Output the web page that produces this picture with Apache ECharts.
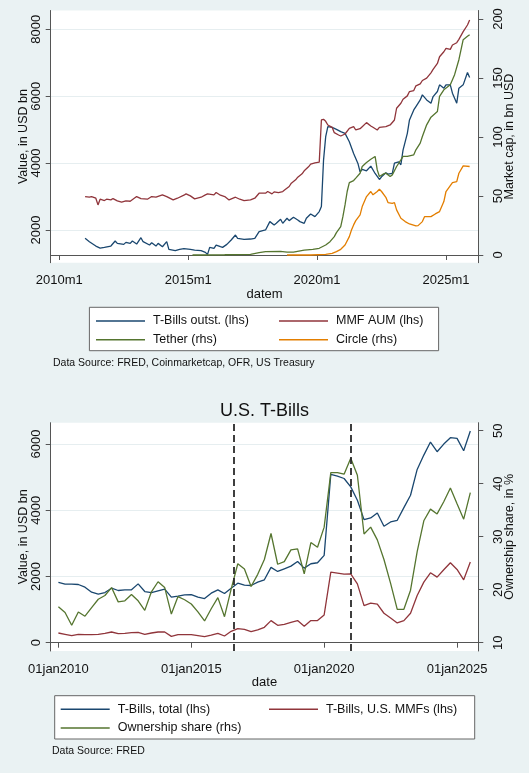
<!DOCTYPE html>
<html>
<head>
<meta charset="utf-8">
<script src="https://cdn.jsdelivr.net/npm/echarts@6/dist/echarts.min.js"></script>
<style>
html,body{margin:0;padding:0;background:#eaf2f3;}
#c{width:529px;height:773px;}
</style>
</head>
<body>
<div id="c"></div>
<script>
// ---------- Chart 1 data (monthly) ----------
const tbillsOutst = [
 ['2011-01',1750],['2011-03',1650],['2011-06',1520],['2011-08',1460],['2011-10',1480],['2012-01',1520],
 ['2012-03',1670],['2012-04',1600],['2012-07',1570],['2012-08',1630],['2012-10',1600],['2012-11',1670],
 ['2013-01',1580],['2013-03',1770],['2013-04',1650],['2013-07',1550],['2013-08',1620],['2013-10',1520],
 ['2013-11',1600],['2014-01',1500],['2014-03',1650],['2014-04',1420],['2014-07',1380],['2014-09',1420],
 ['2014-11',1440],['2015-02',1420],['2015-04',1400],['2015-07',1380],['2015-09',1330],['2015-10',1270],
 ['2015-11',1480],['2016-01',1450],['2016-02',1550],['2016-04',1500],['2016-05',1480],['2016-07',1570],
 ['2016-09',1700],['2016-11',1850],['2016-12',1750],['2017-03',1720],['2017-06',1730],['2017-08',1750],
 ['2017-10',1950],['2018-01',2000],['2018-03',2250],['2018-05',2150],['2018-06',2200],['2018-08',2320],
 ['2018-09',2200],['2018-11',2350],['2018-12',2280],['2019-02',2380],['2019-04',2300],['2019-05',2250],
 ['2019-07',2200],['2019-08',2350],['2019-10',2480],['2019-12',2400],['2020-02',2550],['2020-03',2700],
 ['2020-04',4090],['2020-05',4790],['2020-06',5090],['2020-08',5070],['2020-10',5010],['2020-12',4940],
 ['2021-02',4890],['2021-04',4640],['2021-06',4290],['2021-08',3990],['2021-09',3740],['2021-10',3810],
 ['2021-12',3770],['2022-02',3910],['2022-04',3690],['2022-06',3510],['2022-07',3590],['2022-09',3710],
 ['2022-10',3670],['2022-12',3690],['2023-01',4000],['2023-03',4040],['2023-04',3950],['2023-05',4390],
 ['2023-07',4890],['2023-08',5290],['2023-10',5590],['2023-11',5690],['2024-01',5890],['2024-02',6040],
 ['2024-04',5890],['2024-06',5790],['2024-07',5990],['2024-09',6140],['2024-10',6340],['2024-12',6240],
 ['2025-01',6340],['2025-03',6340],['2025-04',6090],['2025-06',5790],['2025-07',6240],['2025-09',6340],
 ['2025-11',6710],['2025-12',6560]
];
const mmfAum = [
 ['2011-01',2997],['2011-03',2980],['2011-04',3000],['2011-06',2950],['2011-07',2750],['2011-08',2920],
 ['2011-10',2880],['2011-11',2920],['2012-01',2900],['2012-02',2940],['2012-04',2870],['2012-06',2830],
 ['2012-08',2870],['2012-10',2860],['2013-01',3000],['2013-03',2940],['2013-06',2920],['2013-08',3000],
 ['2013-10',2980],['2014-01',3050],['2014-03',3000],['2014-06',2900],['2014-08',2950],['2014-11',3040],
 ['2014-12',3080],['2015-02',3020],['2015-04',2930],['2015-07',2980],['2015-09',3050],['2015-10',3080],
 ['2016-01',3050],['2016-02',3120],['2016-04',3040],['2016-06',3000],['2016-08',2900],['2016-11',2980],
 ['2017-01',2920],['2017-03',2880],['2017-06',2900],['2017-08',2950],['2017-10',3100],['2018-01',3100],
 ['2018-02',3150],['2018-04',3080],['2018-05',3140],['2018-07',3120],['2018-09',3150],['2018-10',3200],
 ['2018-12',3300],['2019-01',3400],['2019-03',3500],['2019-04',3580],['2019-06',3680],['2019-07',3770],
 ['2019-09',3890],['2019-10',3970],['2019-12',4010],['2020-02',4030],['2020-03',5290],['2020-04',5310],
 ['2020-05',5250],['2020-06',5140],['2020-08',5070],['2020-09',4910],['2020-11',4840],['2020-12',4810],
 ['2021-02',4870],['2021-04',5040],['2021-06',5090],['2021-07',4990],['2021-09',5030],['2021-10',5090],
 ['2021-12',5210],['2022-02',5110],['2022-03',5070],['2022-05',4990],['2022-06',5070],['2022-09',5090],
 ['2022-11',5140],['2023-01',5290],['2023-02',5640],['2023-04',5790],['2023-05',5910],['2023-07',6010],
 ['2023-08',6140],['2023-10',6170],['2023-11',6310],['2024-01',6370],['2024-02',6470],['2024-04',6540],
 ['2024-06',6700],['2024-07',6800],['2024-09',6980],['2024-10',7180],['2024-12',7330],['2025-01',7430],
 ['2025-03',7400],['2025-04',7530],['2025-06',7600],['2025-07',7700],['2025-09',7930],['2025-11',8130],
 ['2025-12',8280]
];
const tether = [
 ['2015-03',0],['2016-06',0.2],['2017-06',0.5],['2017-10',2],['2018-01',2.8],['2018-08',3.1],
 ['2018-11',2.5],['2019-02',2.5],['2019-07',4.2],['2019-11',4.8],['2020-02',5.7],['2020-05',8.5],
 ['2020-07',11.3],['2020-09',15.6],['2020-10',19],['2020-12',24],['2021-01',32.5],['2021-02',42.4],
 ['2021-03',53.8],['2021-04',61.4],['2021-06',63.1],['2021-07',65.1],['2021-09',69.3],['2021-10',75],
 ['2021-12',78.4],['2022-02',81.2],['2022-04',83.5],['2022-05',72.1],['2022-06',66.5],['2022-08',68.7],
 ['2022-09',69.3],['2022-11',66.5],['2022-12',67.9],['2023-02',75],['2023-04',80.6],['2023-05',83.5],
 ['2023-07',83.5],['2023-10',84.9],['2023-11',89.1],['2024-01',94.8],['2024-02',100.4],['2024-04',110.3],
 ['2024-06',116.8],['2024-09',121.6],['2024-10',134.4],['2024-12',140],['2025-03',144.3],['2025-05',152.8],
 ['2025-07',165.5],['2025-09',182.5],['2025-11',185.3],['2025-12',186.7]
];
const circle = [
 ['2018-11',0],['2019-10',0],['2020-05',0.6],['2020-08',1.4],['2020-10',2.8],['2020-12',4.8],
 ['2021-02',8.5],['2021-04',15.6],['2021-05',21.2],['2021-06',25.5],['2021-07',29.1],['2021-09',34],
 ['2021-10',41],['2021-12',49.5],['2022-02',53.8],['2022-03',51],['2022-05',53.8],['2022-06',55.7],
 ['2022-07',53.8],['2022-09',48.9],['2022-10',44.4],['2022-12',43.8],['2023-01',44.4],['2023-02',38.2],
 ['2023-04',31.1],['2023-06',28.3],['2023-08',26.3],['2023-11',24.6],['2023-12',24.9],['2024-02',28.3],
 ['2024-03',32.5],['2024-06',32.5],['2024-08',34.8],['2024-10',36.8],['2024-12',45.3],['2025-01',53.8],
 ['2025-04',61.4],['2025-06',62.2],['2025-07',69.3],['2025-09',75.5],['2025-12',75]
];
const c1YearTicks = [2010, 2015, 2020, 2025];
const c1LeftTicks = [2000, 4000, 6000, 8000];
const c1RightTicks = [0, 50, 100, 150, 200];

// ---------- Chart 2 data (quarterly from 2010q1) ----------
const quarterStartYear = 2010;
const tbTotal = [1818,1768,1768,1757,1677,1525,1465,1515,1646,1576,1596,1596,1776,1545,1515,1566,
 1616,1374,1404,1444,1454,1374,1333,1495,1596,1485,1646,1798,1737,1727,1828,1899,
 2273,2151,2232,2313,2454,2252,2384,2414,2636,5080,5030,4959,4707,4303,3717,3767,
 3919,3515,3646,3697,4080,4454,5232,5666,6060,5767,5999,6191,6171,5797,6393];
const tbMMF = [293,253,212,253,242,242,253,283,323,273,283,303,313,253,293,323,
 323,192,242,242,242,212,182,232,283,202,343,424,404,333,384,465,
 667,525,556,616,667,495,667,667,838,2131,2101,2071,2081,1778,1121,1192,
 1162,889,747,596,667,889,1424,1828,2111,1980,2202,2414,2212,1899,2434];
const ownShare = [16.8,15.7,13.3,15.8,15.0,16.6,18.2,18.9,20.4,17.7,17.9,19.1,17.9,16.1,19.6,21.5,
 20.4,15.4,18.7,18.1,17.3,15.8,14.1,16.4,18.5,14.9,20.1,24.9,23.9,20.6,22.9,25.7,
 30.6,24.8,25.3,27.5,27.7,23.0,28.9,28.0,31.8,42.1,42.1,41.8,44.8,41.6,30.5,31.8,
 29.4,25.7,21.2,16.3,16.3,19.9,27.2,33.0,35.2,34.3,36.6,39.2,36.2,33.3,38.3];
const policyDates = ['2016-08', '2021-01'];
const c2YearTicks = [2010, 2015, 2020, 2025];
const c2LeftTicks = [0, 2000, 4000, 6000];
const c2RightTicks = [10, 20, 30, 40, 50];

// ---------- helpers ----------
const toYear = s => { const [y, m] = s.split('-').map(Number); return y + (m - 1) / 12; };
const mpts = arr => arr.map(d => [toYear(d[0]), d[1]]);
const qpts = arr => arr.map((v, i) => [quarterStartYear + i / 4, v]);

const NAVY = '#1a476f', MAROON = '#90353b', GREEN = '#55752f', ORANGE = '#e37e00';
const AX = '#555', TXT = '#111', GRID = '#e6eef0';
const FONT = 'Liberation Sans, Arial, sans-serif';

function xAxisCfg(gridIndex, min, max, ticks, fmt, name) {
  return {
    type: 'value', gridIndex, min, max,
    name, nameLocation: 'middle', nameGap: 25, nameMoveOverlap: false,
    nameTextStyle: { fontFamily: FONT, fontSize: 13, color: TXT },
    axisLine: { show: true, lineStyle: { color: AX, width: 1 } },
    axisTick: { show: true, length: 5, lineStyle: { color: AX }, customValues: ticks },
    axisLabel: { customValues: ticks, formatter: fmt, fontFamily: FONT, fontSize: 13, color: TXT, margin: 11.5 },
    splitLine: { show: false }
  };
}
function yAxisCfg(gridIndex, pos, min, max, ticks, name, grid, nameGap, margin) {
  return {
    type: 'value', gridIndex, position: pos, min, max,
    name, nameLocation: 'middle', nameRotate: 90, nameGap, nameMoveOverlap: false,
    nameTextStyle: { fontFamily: FONT, fontSize: 12.5, color: TXT },
    axisLine: { show: true, lineStyle: { color: AX, width: 1 } },
    axisTick: { show: true, length: 5, lineStyle: { color: AX }, customValues: ticks },
    axisLabel: { customValues: ticks, formatter: v => String(Math.round(v)), rotate: 90, fontFamily: FONT, fontSize: 13, color: TXT, margin },
    splitLine: { show: grid, lineStyle: { color: GRID, width: 1 } }
  };
}
function lineSeries(name, data, x, y, color) {
  return { name, type: 'line', xAxisIndex: x, yAxisIndex: y, data, showSymbol: false, symbol: 'none',
    lineStyle: { color, width: 1.3 }, itemStyle: { color }, animation: false, z: 3 };
}
function legendCol(names, left, top) {
  return { data: names, orient: 'vertical', left, top, itemWidth: 49, itemHeight: 1.5, itemGap: 5.8,
    icon: 'rect', selectedMode: false, padding: 0,
    textStyle: { fontFamily: FONT, fontSize: 12.5, color: TXT, padding: [0, 0, 0, 3] } };
}

const chart = echarts.init(document.getElementById('c'));
chart.setOption({
  backgroundColor: '#eaf2f3',
  animation: false,
  title: { text: 'U.S. T-Bills', left: 'center', top: 397, textStyle: { fontFamily: FONT, fontSize: 18, fontWeight: 'normal', color: TXT } },
  grid: [
    { left: 50.7, right: 50.7, top: 10.5, height: 252.2, show: true, backgroundColor: '#fff', borderWidth: 0, outerBoundsMode: 'none', containLabel: false },
    { left: 50.7, right: 50.7, top: 422.7, height: 228.3, show: true, backgroundColor: '#fff', borderWidth: 0, outerBoundsMode: 'none', containLabel: false }
  ],
  xAxis: [
    xAxisCfg(0, 2009.666, 2026.253, c1YearTicks, v => Math.round(v) + 'm1', 'datem'),
    xAxisCfg(1, 2009.71, 2025.80, c2YearTicks, v => '01jan' + Math.round(v), 'date')
  ],
  yAxis: [
    yAxisCfg(0, 'left', 1022, 8563, c1LeftTicks, 'Value, in USD bn', true, 21, 8),
    yAxisCfg(0, 'right', -6.53, 207.2, c1RightTicks, 'Market cap, in bn USD', false, 25, 13.5),
    yAxisCfg(1, 'left', -251, 6644, c2LeftTicks, 'Value, in USD bn', true, 21, 8),
    yAxisCfg(1, 'right', 8.43, 51.51, c2RightTicks, 'Ownership share, in %', false, 25, 13.5)
  ],
  legend: [
    legendCol(['T-Bills outst. (lhs)', 'Tether (rhs)'], 96, 314.5),
    legendCol(['MMF AUM (lhs)', 'Circle (rhs)'], 279, 314.5),
    legendCol(['T-Bills, total (lhs)', 'Ownership share (rhs)'], 60.7, 702.7),
    legendCol(['T-Bills, U.S. MMFs (lhs)'], 269, 702.7)
  ],
  graphic: [
    { type: 'rect', shape: { x: 89.4, y: 307.3, width: 349.2, height: 43.4 }, style: { fill: '#fff', stroke: '#666', lineWidth: 1 }, z: -1 },
    { type: 'rect', shape: { x: 54.7, y: 695.7, width: 420, height: 43.3 }, style: { fill: '#fff', stroke: '#666', lineWidth: 1 }, z: -1 },
    { type: 'text', left: 53, top: 357.5, style: { text: 'Data Source: FRED, Coinmarketcap, OFR, US Treasury', font: '10.5px ' + FONT, fill: TXT } },
    { type: 'text', left: 52, top: 745.5, style: { text: 'Data Source: FRED', font: '10.5px ' + FONT, fill: TXT } }
  ],
  series: [
    lineSeries('T-Bills outst. (lhs)', mpts(tbillsOutst), 0, 0, NAVY),
    lineSeries('MMF AUM (lhs)', mpts(mmfAum), 0, 0, MAROON),
    lineSeries('Tether (rhs)', mpts(tether), 0, 1, GREEN),
    lineSeries('Circle (rhs)', mpts(circle), 0, 1, ORANGE),
    Object.assign(lineSeries('T-Bills, total (lhs)', qpts(tbTotal), 1, 2, NAVY), {
      markLine: { silent: true, symbol: ['none', 'none'], label: { show: false },
        lineStyle: { color: '#2a2a2a', type: [7, 4], width: 1.8 },
        data: policyDates.map(d => ({ xAxis: toYear(d) })) }
    }),
    lineSeries('T-Bills, U.S. MMFs (lhs)', qpts(tbMMF), 1, 2, MAROON),
    lineSeries('Ownership share (rhs)', qpts(ownShare), 1, 3, GREEN)
  ]
});
</script>
</body>
</html>
